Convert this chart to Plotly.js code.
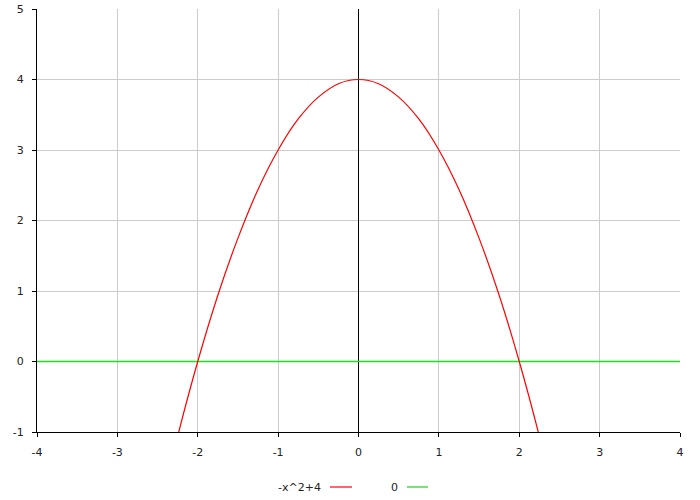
<!DOCTYPE html>
<html><head><meta charset="utf-8">
<script src="https://cdn.plot.ly/plotly-3.0.1.min.js"></script>
<style>body{margin:0;background:#fff}#chart{width:700px;height:500px}</style>
</head><body><div id="chart"></div>
<script>
const curveName = "-x^2+4";
const curveX = [-2.5,-2.25,-2,-1.75,-1.5,-1.25,-1,-0.75,-0.5,-0.25,0,0.25,0.5,0.75,1,1.25,1.5,1.75,2,2.25,2.5];
const curveY = [-2.25,-1.06,0,0.94,1.75,2.44,3,3.44,3.75,3.94,4,3.94,3.75,3.44,3,2.44,1.75,0.94,0,-1.06,-2.25];
const lineName = "0";
const lineX = [-4,-3,-2,-1,0,1,2,3,4];
const lineY = [0,0,0,0,0,0,0,0,0];
const xTicks = [-4,-3,-2,-1,0,1,2,3,4];
const yTicks = [-1,0,1,2,3,4,5];

const font = {family:"DejaVu Sans, Verdana, sans-serif", size:11, color:"#222"};
const data = [
  {x:lineX, y:lineY, mode:"lines", name:lineName, line:{color:"#22dd22", width:1.3}, showlegend:false},
  {x:curveX, y:curveY, mode:"lines", name:curveName, line:{color:"#ff0000", width:1.2, shape:"spline"}, showlegend:false}
];
const layout = {
  width:700, height:500,
  margin:{l:37, r:20, t:9, b:68},
  paper_bgcolor:"#fff", plot_bgcolor:"#fff",
  font:font,
  xaxis:{range:[-4,4], tickvals:xTicks, ticktext:xTicks.map(String), showgrid:true, gridcolor:"#cccccc",
    zeroline:true, zerolinecolor:"#000", zerolinewidth:1, showline:true, linecolor:"#000", linewidth:1,
    ticks:"outside", ticklen:4, tickcolor:"#000", ticklabelstandoff:6, fixedrange:true},
  yaxis:{range:[-1,5], tickvals:yTicks, ticktext:yTicks.map(String), showgrid:true, gridcolor:"#cccccc",
    zeroline:false, showline:true, linecolor:"#000", linewidth:1,
    ticks:"outside", ticklen:4, tickcolor:"#000", ticklabelstandoff:6, fixedrange:true},
  showlegend:false,
  annotations:[
    {xref:"paper", yref:"paper", x:(323-37)/643, y:-(487-432)/423, xanchor:"right", yanchor:"middle", text:curveName, showarrow:false, font:font},
    {xref:"paper", yref:"paper", x:(400-37)/643, y:-(487-432)/423, xanchor:"right", yanchor:"middle", text:lineName, showarrow:false, font:font}
  ],
  shapes:[
    {type:"line", xref:"paper", yref:"paper", x0:(330-37)/643, x1:(352-37)/643, y0:-(487-432)/423, y1:-(487-432)/423, line:{color:"#ff0000", width:1.2}},
    {type:"line", xref:"paper", yref:"paper", x0:(407-37)/643, x1:(428-37)/643, y0:-(487-432)/423, y1:-(487-432)/423, line:{color:"#22dd22", width:1.3}}
  ]
};
Plotly.newPlot("chart", data, layout, {displayModeBar:false, staticPlot:true});
</script></body></html>
